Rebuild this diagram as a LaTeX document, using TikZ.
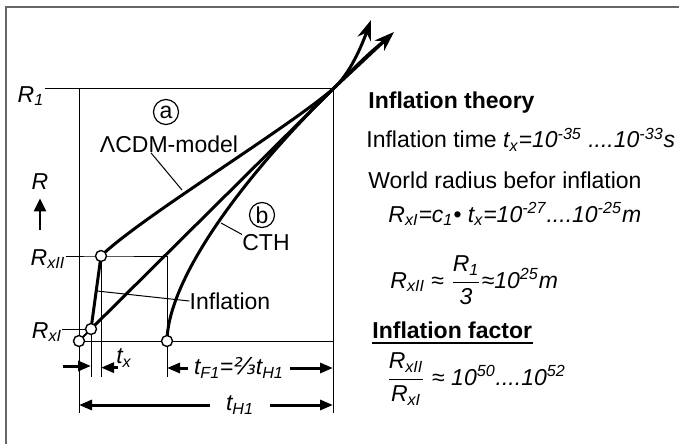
\documentclass[tikz,border=0pt]{standalone}
\usepackage{amsmath}
\usepackage{fontspec}
\setmainfont{Liberation Sans}
\newfontfamily\fracfont{DejaVu Sans}
\usetikzlibrary{arrows.meta, positioning, calc}

\newcommand{\Rsub}[1]{\textit{R\textsubscript{#1}}}
\newcommand{\tsub}[1]{\textit{t\textsubscript{#1}}}

\begin{document}
\begin{tikzpicture}[x=0.5pt, y=-0.5pt,
  every node/.style={font=\fontsize{11.5}{13.5}\selectfont, inner sep=0pt},
  thinline/.style={line width=0.5pt},
  thickline/.style={line width=1.5pt},
  dimarrow/.style={line width=1.5pt, -{Triangle[length=6.5pt, width=5pt]}},
  growarrow/.style={line width=1.5pt, -{Stealth[length=10pt, width=7pt]}},
  dot/.style={circle, draw, line width=0.7pt, fill=white, minimum size=5.5pt},
  tag/.style={circle, draw, line width=0.6pt, minimum size=12.5pt}
]
  \useasboundingbox (0,0) rectangle (679,444);

  % frame
  \draw[line width=1pt, black!60] (6,444) -- (6,7) -- (679,7);

  % key points of the plot
  \coordinate (O) at (79,341);
  \coordinate (xI) at (91,329);
  \coordinate (xII) at (101,256);
  \coordinate (F) at (167,341);
  \coordinate (X) at (333,89);
  \coordinate (tick) at (0,377);
  \coordinate (bot) at (0,413);

  % axis labels
  \node (R1) at (31,96) {\Rsub{1}};
  \node (RxII) at (48,259) {\Rsub{xII}};
  \node (RxI) at (47,332) {\Rsub{xI}};
  \node (R) at (40,182) {\textit{R}};
  \draw[line width=1.3pt, -{Triangle[length=6.5pt, width=6pt]}] (40,230) -- ([yshift=-4pt]R.south);

  % grid lines
  \draw[thinline] (R1.east |- X) -- (X) -- (X |- bot);
  \draw[thinline] (O |- X) -- (O |- bot);
  \draw[thinline] (O) -- (O -| X);
  \draw[thinline] (RxII.east |- xII) -- (xII) -- (xII -| F) -- (F |- tick);
  \draw[thinline] (RxI.east |- xI) -- (xI) -- (xI |- tick);
  \draw[thinline] (xII) -- (xII |- tick);

  % curves
  \draw[line width=1pt] (O) -- (xI);
  \draw[thickline] (xI) -- (xII);
  \draw[thickline] (F) .. controls (168,280) and (240,180) .. (X)
    .. controls (355,67) and (372,50) .. (388,38);
  \draw[growarrow] (xI) -- (X) -- (394,32);
  \draw[growarrow] (xII) .. controls (140,218) and (285,130) .. (X)
    .. controls (350,74) and (362,45) .. (371,20);

  % curve labels
  \node[tag] (ta) at (166,112) {a};
  \node (lcdm) at (169,144) {ΛCDM-model};
  \coordinate (ona) at (182,190);
  \draw[thinline] ([xshift=-9pt]lcdm.south) -- (ona);
  \node[tag] (tb) at (262,215) {b};
  \node (cth) at (266,243) {CTH};
  \coordinate (onb) at (221,223);
  \draw[thinline] (cth.north west) -- (onb);
  \node (infl) at (230,301) {Inflation};
  \coordinate (oni) at (97,291);
  \draw[thinline] (infl.west) -- (oni);

  % dots
  \node[dot] (dO) at (O) {};
  \node[dot] (dxI) at (xI) {};
  \node[dot] (dxII) at (xII) {};
  \node[dot] (dF) at (F) {};

  % time spans
  \coordinate (lx) at (63,366);
  \draw[dimarrow] (lx) -- (lx -| xI);
  \node (tx) at (124,358) {\tsub{x}};
  \draw[dimarrow] ([xshift=1pt]tx.south west) -- (tx.south west -| xII);
  \node (tF1) at (239,368) {\tsub{F1}={\fracfont\itshape ⅔}\tsub{H1}};
  \draw[dimarrow] ([xshift=-3pt]tF1.west) -- (tF1.west -| F);
  \draw[dimarrow] ([xshift=3pt]tF1.east) -- (tF1.east -| X);
  \node (tH1) at (240,405) {\tsub{H1}};
  \draw[dimarrow] ([xshift=-8pt]tH1.west) -- (tH1.west -| O);
  \draw[dimarrow] ([xshift=8pt]tH1.east) -- (tH1.east -| X);

  % text block
  \node[anchor=base west] (theory) at (368,109) {\textbf{Inflation theory}};
  \node[anchor=base west] (time) at (366,148)
    {Inflation time \textit{t\textsubscript{x}=10\textsuperscript{-35} ....10\textsuperscript{-33}s}};
  \node[anchor=base west] (radius) at (368,188) {World radius befor inflation};
  \node[anchor=base west] (rxi) at (388,222)
    {\textit{R\textsubscript{xI}=c\textsubscript{1}• t\textsubscript{x}=10\textsuperscript{-27}....10\textsuperscript{-25}m}};
  \node[anchor=base west] (rxii) at (390,288)
    {\textit{R\textsubscript{xII}} ≈ $\dfrac{\mbox{\Rsub{1}}}{\mbox{\textit{3}}}$≈\textit{10\textsuperscript{25}m}};
  \node[anchor=base west] (factor) at (372,338) {\textbf{Inflation factor}};
  \draw[line width=1pt] ($(factor.base west)+(0,5)$) -- ($(factor.base east)+(0,5)$);
  \node[anchor=base west] (ratio) at (386,385)
    {$\dfrac{\mbox{\Rsub{xII}}}{\mbox{\Rsub{xI}}}$ ≈ \textit{10\textsuperscript{50}....10\textsuperscript{52}}};
\end{tikzpicture}
\end{document}
